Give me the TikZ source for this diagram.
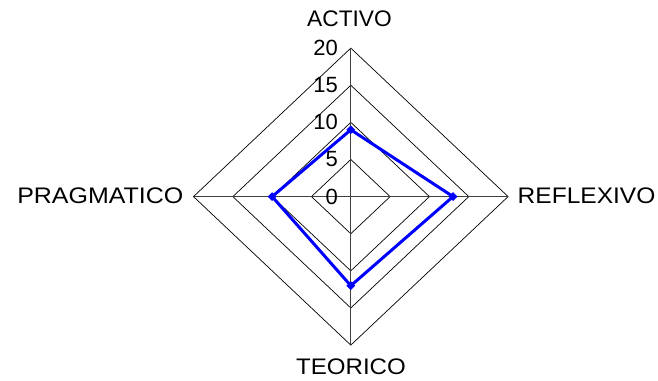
\documentclass[tikz,border=0pt]{standalone}
\usepackage{fontspec}
\setmainfont{Liberation Sans}
\usetikzlibrary{shapes.geometric}
\newcommand{\wideby}[2]{\scalebox{#1}[1]{#2}}
\begin{document}
\begin{tikzpicture}[x=1pt,y=-1pt,
  grid/.style={draw=black,line width=0.7pt},
  axisline/.style={draw=black!75,line width=0.7pt},
  series/.style={draw=blue,line width=3pt,line join=round},
  mk/.style={fill=blue,draw=none,minimum size=9pt,inner sep=0pt,shape=diamond},
  catlabel/.style={font=\fontsize{22.5}{24}\selectfont,inner sep=0pt},
  ticklabel/.style={font=\fontsize{22}{24}\selectfont,inner sep=0pt,anchor=east}
]
\useasboundingbox (0,0) rectangle (658,380);
\def\cx{350.8}\def\cy{196.6}\def\rx{157.3}\def\ry{148.5}
% grid diamonds
\foreach \k in {1,2,3,4}{
  \draw[grid] (\cx,\cy-\k*\ry/4) -- (\cx+\k*\rx/4,\cy) -- (\cx,\cy+\k*\ry/4) -- (\cx-\k*\rx/4,\cy) -- cycle;
}
% axes
\coordinate (top) at (\cx,\cy-\ry);
\coordinate (bot) at (\cx,\cy+\ry);
\coordinate (lft) at (\cx-\rx,\cy);
\coordinate (rgt) at (\cx+\rx,\cy);
\draw[axisline] (top) -- (bot);
\draw[axisline] (lft) -- (rgt);
% category labels
\node[catlabel] (activo) at (349.5,18.5) {\wideby{1.01}{ACTIVO}};
\node[catlabel,anchor=west] (reflexivo) at (517.5,195.5) {\wideby{1.09}{REFLEXIVO}};
\node[catlabel] (teorico) at (351,366.5) {\wideby{1.07}{TEORICO}};
\node[catlabel,anchor=east] (pragmatico) at (183.5,195.5) {\wideby{1.11}{PRAGMATICO}};
% tick labels
\foreach \v/\k in {0/0,5/1,10/2,15/3,20/4}{
  \node[ticklabel] (t\v) at (338,\cy-\k*\ry/4) {\v};
}
% data
\coordinate (pa) at (\cx,\cy-9*\ry/20);
\coordinate (pr) at (\cx+13*\rx/20,\cy);
\coordinate (pt) at (\cx,\cy+12*\ry/20);
\coordinate (pp) at (\cx-10*\rx/20,\cy);
\draw[series] (pa) -- (pr) -- (pt) -- (pp) -- cycle;
\foreach \p in {pa,pr,pt,pp}{ \node[mk] (m\p) at (\p) {}; }
\end{tikzpicture}
\end{document}
